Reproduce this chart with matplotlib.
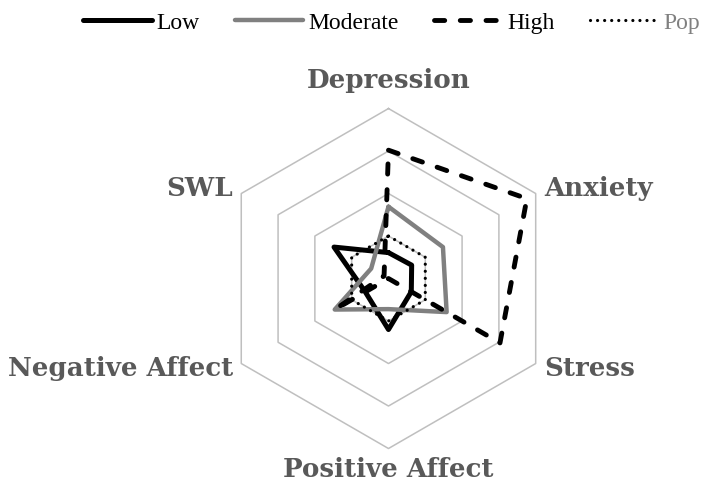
import numpy as np
import matplotlib
matplotlib.use('Agg')
import matplotlib.pyplot as plt

# categories clockwise from the top
categories = ['Depression', 'Anxiety', 'Stress', 'Positive Affect', 'Negative Affect', 'SWL']
low = [-0.39, -0.37, -0.38, 0.20, -0.37, 0.48]
moderate = [0.69, 0.48, 0.58, -0.28, 0.46, -0.53]
high = [2.02, 2.76, 2.03, -1.0, 0.44, -0.88]
pop = [0, 0, 0, 0, 0, 0]
rings = [0, 1, 2, 3]

label_grey = '#595959'
plt.rcParams['font.family'] = ['Liberation Serif', 'DejaVu Serif']

angles = np.linspace(0, 2 * np.pi, len(categories), endpoint=False)
ang = np.append(angles, angles[0])

def closed(v):
    return np.append(v, v[0])

fig = plt.figure(figsize=(7.08, 4.88), dpi=100)
ax = fig.add_axes([0.3086, 0.0809, 0.4802, 0.6967], projection='polar')
ax.set_theta_offset(np.pi / 2)
ax.set_theta_direction(-1)
ax.set_ylim(-1, 3)
ax.grid(False)
ax.spines['polar'].set_visible(False)
ax.set_xticks([])
ax.set_yticks([])
ax.patch.set_visible(False)

for r in rings:
    ax.plot(ang, [r] * len(ang), color='#BFBFBF', lw=1.1, zorder=1, clip_on=False)

l1, = ax.plot(ang, closed(low), color='black', lw=3.6, solid_capstyle='round',
              solid_joinstyle='round', zorder=2, clip_on=False)
l2, = ax.plot(ang, closed(moderate), color='#808080', lw=3.2, solid_capstyle='round',
              solid_joinstyle='round', zorder=3, clip_on=False)
l3, = ax.plot(ang, closed(high), color='black', lw=3.5, linestyle=(0, (2.1, 3.2)),
              dash_capstyle='round', zorder=4, clip_on=False)
l4, = ax.plot(ang, closed(pop), color='black', lw=2.3, linestyle=(0, (0.01, 2.2)),
              dash_capstyle='round', zorder=5, clip_on=False)

label_pos = [(3.67, 'center'), (3.22, 'left'), (3.22, 'left'),
             (3.5, 'center'), (3.22, 'right'), (3.22, 'right')]
for a, name, (r, ha) in zip(angles, categories, label_pos):
    ax.text(a, r, name, ha=ha, va='center', fontsize=18.8, fontweight='bold',
            color=label_grey, family='DejaVu Serif', clip_on=False)

leg = fig.legend([l1, l2, l3, l4], ['Low', 'Moderate', 'High', 'Pop'],
                 loc='center', bbox_to_anchor=(0.553, 0.953), ncol=4, frameon=False,
                 handlelength=2.9, handletextpad=0.2, columnspacing=1.5,
                 prop={'size': 17})
leg.get_texts()[3].set_color('#808080')

fig.savefig('out.png', dpi=100)
